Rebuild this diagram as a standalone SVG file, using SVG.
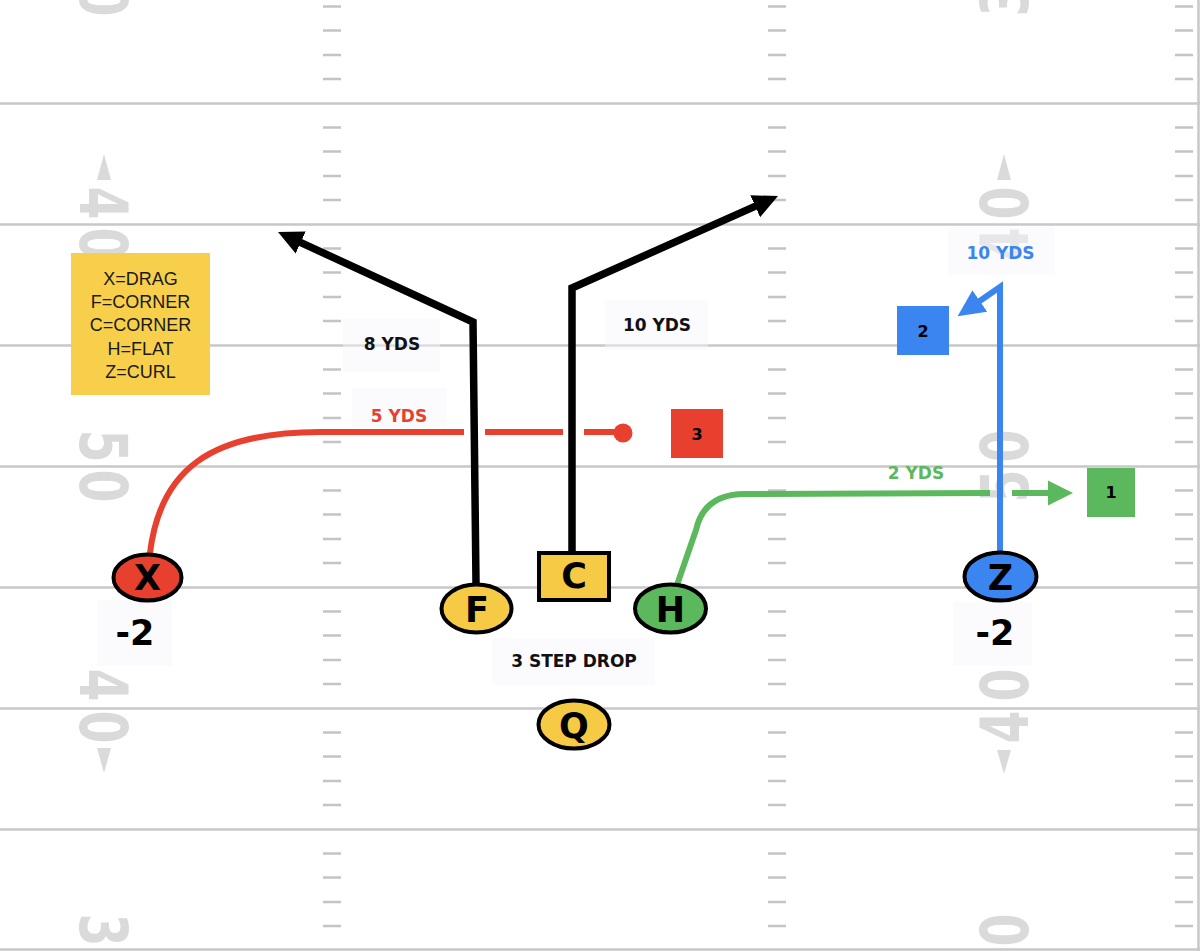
<svg xmlns="http://www.w3.org/2000/svg" xmlns:xlink="http://www.w3.org/1999/xlink" width="1200" height="951" viewBox="0 0 1200 951">
<style>
.yl{stroke:#c8c8c8;stroke-width:2.5;fill:none}
.hash{stroke:#c4c4c4;stroke-width:2.5;fill:none}
.num{font-family:"DejaVu Sans",sans-serif;font-weight:bold;font-size:66px;fill:#dadada;text-anchor:middle}
.tri{fill:#dadada}
.lbg{fill:#f7f5fb;fill-opacity:0.45}
.lbl{font-family:"DejaVu Sans","Liberation Sans",sans-serif;font-weight:bold;font-size:17px;text-anchor:middle}
.node{stroke:#000;stroke-width:4}
.ntx{font-family:"DejaVu Sans","Liberation Sans",sans-serif;font-weight:bold;font-size:35px;text-anchor:middle;fill:#000}
.btx{font-family:"DejaVu Sans","Liberation Sans",sans-serif;font-weight:bold;font-size:16px;text-anchor:middle;fill:#000}
.leg{font-family:"Liberation Sans",Arial,sans-serif;font-size:18px;text-anchor:middle;fill:#1a1a1a}
.route{fill:none;stroke-linejoin:miter}
</style>
<defs>
<path id="hashcol" d="M0,6.5h18M0,30.5h18M0,55h18M0,79h18M0,127.5h18M0,151.5h18M0,176h18M0,200h18M0,248.5h18M0,272.5h18M0,297h18M0,321h18M0,369.5h18M0,393.5h18M0,418h18M0,442h18M0,490.5h18M0,514.5h18M0,539h18M0,563h18M0,611.5h18M0,635.5h18M0,660h18M0,684h18M0,732.5h18M0,756.5h18M0,781h18M0,805h18M0,853.5h18M0,877.5h18M0,902h18M0,926h18"/>
<marker id="arBlack" markerUnits="userSpaceOnUse" markerWidth="26" markerHeight="26" viewBox="0 0 26 26" refX="1" refY="13" orient="auto"><path d="M0,1 L25,13 L0,25 Z" fill="#000"/></marker>
<marker id="arGreen" markerUnits="userSpaceOnUse" markerWidth="26" markerHeight="26" viewBox="0 0 26 26" refX="1" refY="13" orient="auto"><path d="M0,0.5 L25,13 L0,25.5 Z" fill="#5cb85c"/></marker>
<marker id="arBlue" markerUnits="userSpaceOnUse" markerWidth="28" markerHeight="28" viewBox="0 0 28 28" refX="1" refY="14" orient="auto"><path d="M0,1 L27,14 L0,27 Z" fill="#3b85f0"/></marker>
</defs>

<g id="field">
<rect x="0" y="0" width="1200" height="951" fill="#ffffff"/>
<path class="yl" d="M0,103.5H1200M0,224.5H1200M0,345.5H1200M0,466.5H1200M0,587.5H1200M0,708.5H1200M0,829.5H1200M0,949.5H1200M1198.5,0V951"/>
<g class="hash">
<use xlink:href="#hashcol" href="#hashcol" x="323"/>
<use xlink:href="#hashcol" href="#hashcol" x="768"/>
<use xlink:href="#hashcol" href="#hashcol" x="1175"/>
</g>
<g id="numbers-left">
<text class="num" y="24" transform="translate(104,0) rotate(90) scale(0.72,1)">0</text>
<polygon class="tri" points="104,154 97,180 111,180"/>
<text class="num" y="24" transform="translate(104,203) rotate(90) scale(0.72,1)">4</text>
<text class="num" y="24" transform="translate(104,244) rotate(90) scale(0.72,1)">0</text>
<text class="num" y="24" transform="translate(104,446) rotate(90) scale(0.72,1)">5</text>
<text class="num" y="24" transform="translate(104,486) rotate(90) scale(0.72,1)">0</text>
<text class="num" y="24" transform="translate(104,685) rotate(90) scale(0.72,1)">4</text>
<text class="num" y="24" transform="translate(104,727) rotate(90) scale(0.72,1)">0</text>
<polygon class="tri" points="97,748 111,748 104,773"/>
<text class="num" y="24" transform="translate(104,930) rotate(90) scale(0.72,1)">3</text>
</g>
<g id="numbers-right">
<text class="num" y="24" transform="translate(1004,0) rotate(-90) scale(0.72,1)">3</text>
<polygon class="tri" points="1004,154 997,180 1011,180"/>
<text class="num" y="24" transform="translate(1004,203) rotate(-90) scale(0.72,1)">0</text>
<text class="num" y="24" transform="translate(1004,244) rotate(-90) scale(0.72,1)">4</text>
<text class="num" y="24" transform="translate(1004,446) rotate(-90) scale(0.72,1)">0</text>
<text class="num" y="24" transform="translate(1004,486) rotate(-90) scale(0.72,1)">5</text>
<text class="num" y="24" transform="translate(1004,685) rotate(-90) scale(0.72,1)">0</text>
<text class="num" y="24" transform="translate(1004,727) rotate(-90) scale(0.72,1)">4</text>
<polygon class="tri" points="997,750 1011,750 1004,774"/>
<text class="num" y="24" transform="translate(1004,930) rotate(-90) scale(0.72,1)">0</text>
</g>
</g>

<g id="label-backgrounds">
<rect class="lbg" x="343" y="318" width="97" height="54"/>
<rect class="lbg" x="605" y="300" width="103" height="50"/>
<rect class="lbg" x="352" y="388" width="95" height="40"/>
<rect class="lbg" x="948" y="228" width="107" height="47"/>
<rect class="lbg" x="492" y="638" width="163" height="47"/>
<rect class="lbg" x="97" y="600" width="75" height="66"/>
<rect class="lbg" x="953" y="602" width="79" height="64"/>
</g>

<g id="connectors">
<g id="route-X" stroke="#e8402f" stroke-width="6" fill="none">
<path d="M150,553 C160,470 210,432 320,432 L464,432"/>
<path d="M485,432 L563,432"/>
<path d="M584,432 L620,432"/>
<circle cx="623" cy="433" r="9.5" fill="#e8402f" stroke="none"/>
</g>
<path id="route-F" class="route" stroke="#000" stroke-width="7.5" d="M476,583 L473,322 L299.8,242.1" marker-end="url(#arBlack)"/>
<path id="route-C" class="route" stroke="#000" stroke-width="7.5" d="M572,551 L572,288 L756.1,205.8" marker-end="url(#arBlack)"/>
<g id="route-H" stroke="#5cb85c" stroke-width="6" fill="none">
<path d="M677,585 L696,530 Q704,494 745,494 L990,493"/>
<path d="M1012,493 L1049,493" marker-end="url(#arGreen)"/>
</g>
<path id="route-Z" class="route" stroke="#3b85f0" stroke-width="6" d="M1000,551 L1000,287 L979,301.5" marker-end="url(#arBlue)"/>
</g>

<g id="legend">
<rect x="71" y="253" width="139" height="142" fill="#f8cf4b"/>
<text class="leg" x="140.5" y="285">X=DRAG</text>
<text class="leg" x="140.5" y="308">F=CORNER</text>
<text class="leg" x="140.5" y="331">C=CORNER</text>
<text class="leg" x="140.5" y="355">H=FLAT</text>
<text class="leg" x="140.5" y="378">Z=CURL</text>
</g>

<g id="labels">
<text class="lbl" x="392" y="350" fill="#111">8 YDS</text>
<text class="lbl" x="657" y="331" fill="#111">10 YDS</text>
<text class="lbl" x="399" y="422" fill="#e8402f">5 YDS</text>
<text class="lbl" x="916" y="479" fill="#5cb85c">2 YDS</text>
<text class="lbl" x="1000.5" y="259" fill="#3b85f0">10 YDS</text>
<text class="lbl" x="574" y="667" fill="#111">3 STEP DROP</text>
</g>

<g id="node-X">
<ellipse class="node" cx="147.5" cy="577.5" rx="34" ry="23" fill="#e8402f"/>
<text class="ntx" x="147.5" y="590">X</text>
<text class="ntx" x="135" y="645" font-size="30">-2</text>
</g>
<g id="node-F">
<ellipse class="node" cx="476.5" cy="608.5" rx="35" ry="24" fill="#f6ca44"/>
<text class="ntx" x="477" y="621.5">F</text>
</g>
<g id="node-C">
<rect class="node" x="539" y="553" width="70" height="47" fill="#f6ca44"/>
<text class="ntx" x="574" y="588">C</text>
</g>
<g id="node-H">
<ellipse class="node" cx="670.5" cy="608.5" rx="35.5" ry="24" fill="#5cb85c"/>
<text class="ntx" x="670.5" y="621.5">H</text>
</g>
<g id="node-Q">
<ellipse class="node" cx="574" cy="724.5" rx="35.5" ry="24" fill="#f6ca44"/>
<text class="ntx" x="574" y="738">Q</text>
</g>
<g id="node-Z">
<ellipse class="node" cx="1000.5" cy="576.5" rx="36" ry="24" fill="#3b85f0"/>
<text class="ntx" x="1000.5" y="589.5">Z</text>
<text class="ntx" x="995" y="645" font-size="30">-2</text>
</g>
<g id="node-3">
<rect x="671" y="409" width="52" height="49" fill="#e8402f"/>
<text class="btx" x="697" y="440">3</text>
</g>
<g id="node-2">
<rect x="897" y="306" width="52" height="49" fill="#3b85f0"/>
<text class="btx" x="923" y="337">2</text>
</g>
<g id="node-1">
<rect x="1087" y="468" width="48" height="49" fill="#5cb85c"/>
<text class="btx" x="1111" y="498">1</text>
</g>
</svg>
